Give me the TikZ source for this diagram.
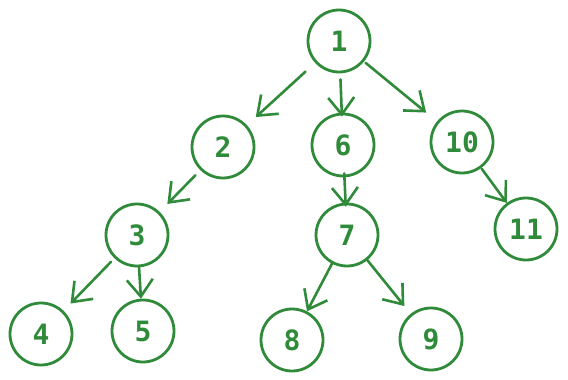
\documentclass[tikz,border=0pt]{standalone}
\usepackage{fontspec}
\setmonofont{DejaVu Sans Mono}
\usepackage{tikz}
\usetikzlibrary{arrows.meta}
\definecolor{treeGreen}{RGB}{47,139,58}

\begin{document}
\begin{tikzpicture}[
  x=1pt, y=-1pt,
  vertex/.style={circle, minimum size=62pt, inner sep=0pt, draw=treeGreen, line width=2.8pt, text=treeGreen, font=\fontsize{28}{30}\selectfont\ttfamily\bfseries},
  arrow/.style={line width=2.6pt, treeGreen, line cap=round, -{Straight Barb[length=17pt, width=26pt, line width=2.6pt]}}
]
\useasboundingbox (0,0) rectangle (568,380);

% Nodes
\node (n1) [vertex] at (339,41) {1};
\node (n2) [vertex] at (223,147) {2};
\node (n6) [vertex] at (343,145) {6};
\node (n10) [vertex] at (462,142) {10};
\node (n3) [vertex] at (137,235) {3};
\node (n7) [vertex] at (347,235) {7};
\node (n11) [vertex] at (526,229) {11};
\node (n4) [vertex] at (41,334) {4};
\node (n5) [vertex] at (143,331) {5};
\node (n8) [vertex] at (292,340) {8};
\node (n9) [vertex] at (431,339) {9};

% Arrows
\draw [arrow, shorten <=13pt, shorten >=12pt] (n1) -- (n2);
\draw [arrow, shorten <=6pt, shorten >=-4pt] (n1) -- (n6);
\draw [arrow, shorten <=2pt, shorten >=14pt] (n1) -- (n10);
\draw [arrow, shorten <=7pt, shorten >=11pt] (n2) -- (n3);
\draw [arrow, shorten <=-4pt, shorten >=-4pt] (n6) -- (n7);
\draw [arrow, shorten <=1pt, shorten >=0pt] (n10) -- (n11);
\draw [arrow, shorten <=5pt, shorten >=10pt] (n3) -- (n4);
\draw [arrow, shorten <=0pt, shorten >=0pt] (n3) -- (n5);
\draw [arrow, shorten <=0pt, shorten >=0pt] (n7) -- (n8);
\draw [arrow, shorten <=0pt, shorten >=10pt] (n7) -- (n9);

\end{tikzpicture}
\end{document}
